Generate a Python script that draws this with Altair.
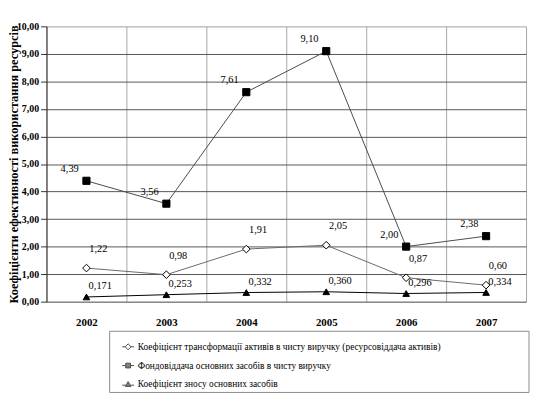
import altair as alt
import pandas as pd

years = ["2002", "2003", "2004", "2005", "2006", "2007"]
series_names = [
    "Коефіцієнт трансформації активів в чисту виручку (ресурсовіддача активів)",
    "Фондовіддача основних засобів в чисту виручку",
    "Коефіцієнт зносу основних засобів",
]
transform_coef = [1.22, 0.98, 1.91, 2.05, 0.87, 0.60]
fund_return = [4.39, 3.56, 7.61, 9.10, 2.00, 2.38]
wear_coef = [0.171, 0.253, 0.332, 0.360, 0.296, 0.334]
decimals = [2, 2, 3]

rows = []
for name, vals, dec in zip(series_names, [transform_coef, fund_return, wear_coef], decimals):
    for y, v in zip(years, vals):
        rows.append({"year": y, "series": name, "value": v,
                     "label": f"{v:.{dec}f}".replace(".", ",")})
df = pd.DataFrame(rows)

FONT = "'Liberation Serif', 'Times New Roman', serif"
W, H = 486, 279

x_enc = alt.X("year:N", sort=years, title=None,
              scale=alt.Scale(paddingInner=0, paddingOuter=0),
              axis=alt.Axis(tickBand="extent", grid=True, gridColor="#a8a8a8",
                            gridWidth=1, ticks=False, domain=False,
                            labelAngle=0, labelFont=FONT, labelFontWeight="bold",
                            labelFontSize=11, labelPadding=15, labelColor="black"))
y_enc = alt.Y("value:Q", title="Коефіцієнти ефективності використання ресурсів",
              scale=alt.Scale(domain=[0, 10], nice=False, zero=True),
              axis=alt.Axis(values=[0, 1, 2, 3, 4, 5, 6, 7, 8, 9, 10],
                            labelExpr="replace(format(datum.value, '.2f'), '.', ',')",
                            labelFont=FONT, labelFontWeight="bold", labelFontSize=10,
                            labelColor="black", labelPadding=2, labelOverlap=False,
                            tickSize=6, tickColor="#333", domainColor="#333",
                            grid=True,
                            gridColor={"condition": {"test": "datum.value === 10", "value": "#b0b0b0"},
                                       "value": "#555555"},
                            titleFont=FONT, titleFontWeight="bold", titleFontSize=12.5,
                            titleColor="black", titleX=-26, titleY=H / 2,
                            titleAngle=-90, titleAlign="center", titleBaseline="bottom"))

base = alt.Chart(df)

lines = base.mark_line().encode(
    x=x_enc, y=y_enc,
    detail="series:N",
    color=alt.Color("series:N", scale=alt.Scale(domain=series_names, range=["#6a6a6a", "#4a4a4a", "black"]), legend=None),
    strokeWidth=alt.StrokeWidth("series:N", scale=alt.Scale(domain=series_names, range=[1, 1, 2]), legend=None),
)

points = base.mark_point(filled=True, stroke="black", strokeWidth=1, opacity=1).encode(
    x=x_enc, y=y_enc,
    shape=alt.Shape("series:N", scale=alt.Scale(domain=series_names, range=["diamond", "square", "triangle-up"]), legend=None),
    fill=alt.Fill("series:N", scale=alt.Scale(domain=series_names, range=["white", "black", "black"]), legend=None),
    size=alt.Size("series:N", scale=alt.Scale(domain=series_names, range=[60, 45, 50]), legend=None),
)

legend_paths = [
    "M-2,0H-1M1,0H2M-1,0L0,-1L1,0L0,1Z",
    "M-2,0H-0.8M0.8,0H2M-0.8,-0.8H0.8V0.8H-0.8Z",
    "M-2,0.3H-0.8M0.8,0.3H2M0,-0.9L0.95,0.7H-0.95Z",
]
legend_cfg = dict(orient="none", legendX=78, legendY=320, direction="vertical",
                  symbolSize=36, symbolStrokeColor="black", symbolStrokeWidth=1,
                  labelFont=FONT, labelFontSize=9.5, labelColor="black",
                  labelOffset=5, rowPadding=8, labelLimit=400, padding=0)
legend_layer = base.transform_filter("false").mark_point(filled=True, strokeWidth=1).encode(
    x=x_enc, y=y_enc,
    shape=alt.Shape("series:N", title=None,
                    scale=alt.Scale(domain=series_names, range=legend_paths),
                    legend=alt.Legend(**legend_cfg)),
    fill=alt.Fill("series:N", title=None,
                  scale=alt.Scale(domain=series_names, range=["white", "black", "black"]),
                  legend=alt.Legend(**legend_cfg)),
    stroke=alt.Stroke("series:N", title=None,
                      scale=alt.Scale(domain=series_names, range=["black", "black", "black"]),
                      legend=alt.Legend(**legend_cfg)),
)

frame = alt.Chart(pd.DataFrame({"a": [0]})).mark_rect(fill="white", stroke="#8a8a8a", strokeWidth=1).encode(
    x=alt.value(64), x2=alt.value(489), y=alt.value(309), y2=alt.value(371))

label_offsets = {series_names[0]: (12, -19), series_names[1]: (-17, -12), series_names[2]: (14, -11)}
texts = []
for name in series_names:
    dx, dy = label_offsets[name]
    texts.append(base.transform_filter(alt.datum.series == name).mark_text(
        font=FONT, fontSize=10.5, color="black", dx=dx, dy=dy).encode(
        x=x_enc, y=y_enc, text="label:N"))

chart = alt.layer(frame, lines, points, *texts, legend_layer).resolve_scale(
    shape="independent", fill="independent", stroke="independent"
).properties(
    width=W, height=H,
    autosize=alt.AutoSizeParams(type="none"),
    padding={"left": 39, "top": 16, "right": 4, "bottom": 93},
).configure_view(stroke="#a8a8a8", strokeWidth=1).configure(background="white")

chart.save("out.html", embed_options={"renderer": "svg", "actions": False})
